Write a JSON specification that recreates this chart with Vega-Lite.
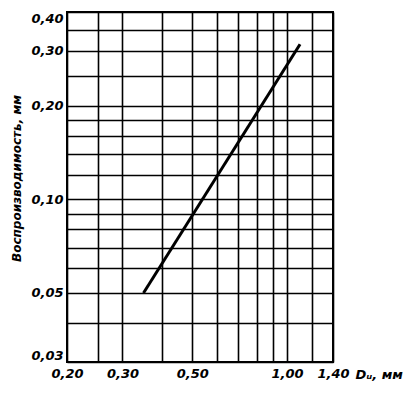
{
  "$schema": "https://vega.github.io/schema/vega-lite/v6.json",
  "autosize": {"type": "none"},
  "padding": {"left": 67, "top": 12, "right": 80, "bottom": 36},
  "width": 266,
  "height": 350,
  "background": "white",
  "config": {
    "view": {"stroke": "black", "strokeWidth": 2},
    "axis": {
      "grid": true,
      "gridColor": "black",
      "gridOpacity": 1,
      "gridWidth": 1.6,
      "ticks": false,
      "domain": false,
      "labelFont": "DejaVu Sans",
      "labelFontStyle": "italic",
      "labelFontWeight": "bold",
      "labelFontSize": 13,
      "labelColor": "black",
      "labelOverlap": false,
      "titleFont": "DejaVu Sans",
      "titleFontStyle": "italic",
      "titleFontWeight": "bold",
      "titleFontSize": 12,
      "titleColor": "black"
    }
  },
  "data": {"values": [
    {"d": 0.35, "r": 0.05},
    {"d": 1.10, "r": 0.315}
  ]},
  "mark": {"type": "line", "color": "black", "strokeWidth": 3, "strokeCap": "butt"},
  "encoding": {
    "x": {
      "field": "d", "type": "quantitative",
      "scale": {"type": "log", "domain": [0.2, 1.4], "nice": false, "zero": false},
      "axis": {
        "values": [0.2, 0.25, 0.3, 0.4, 0.5, 0.6, 0.7, 0.8, 0.9, 1.0, 1.2, 1.4],
        "labelExpr": "indexof(['0.20','0.30','0.50','1.00','1.40'], format(datum.value,'.2f')) >= 0 ? replace(format(datum.value,'.2f'),'.',',') : ''",
        "labelPadding": 5,
        "labelFlush": false,
        "title": "Dᵤ, мм",
        "titleX": 288,
        "titleY": 16,
        "titleAlign": "left",
        "titleBaseline": "alphabetic",
        "titleFontSize": 13,
        "titleAnchor": null
      }
    },
    "y": {
      "field": "r", "type": "quantitative",
      "scale": {"type": "log", "domain": [0.03, 0.4], "nice": false, "zero": false},
      "axis": {
        "values": [0.03, 0.04, 0.05, 0.06, 0.07, 0.08, 0.09, 0.1, 0.12, 0.14, 0.16, 0.18, 0.2, 0.25, 0.3, 0.35, 0.4],
        "labelExpr": "indexof(['0.03','0.05','0.10','0.20','0.30','0.40'], format(datum.value,'.2f')) >= 0 ? replace(format(datum.value,'.2f'),'.',',') : ''",
        "labelPadding": 4,
        "labelFlush": true,
        "title": "Воспроизводимость, мм",
        "titleX": -51,
        "titleY": 166,
        "titleAngle": -90,
        "titleAlign": "center",
        "titleBaseline": "middle"
      }
    }
  }
}
